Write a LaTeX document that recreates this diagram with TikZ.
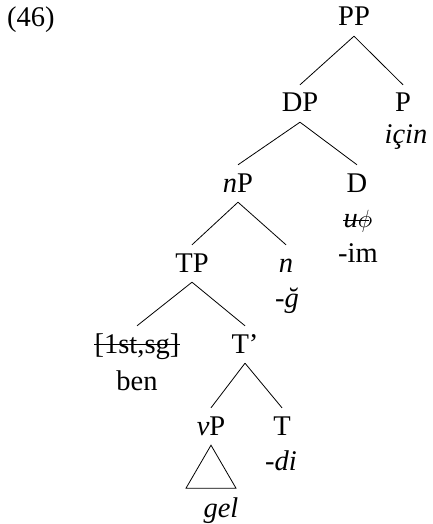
\documentclass[tikz,border=0pt]{standalone}
\usepackage{fontspec}
\setmainfont{Liberation Serif}
\usetikzlibrary{calc}
\begin{document}
\begin{tikzpicture}[x=1pt,y=1pt,
  lab/.style={font=\fontsize{28.5}{34}\selectfont, anchor=base, inner xsep=0pt, inner ysep=0pt, text height=20pt, text depth=3pt},
  cat/.style={lab, inner ysep=7pt},
  edge/.style={line width=0.8pt},
  strike/.style={line width=0.7pt},
]
\useasboundingbox (0,0) rectangle (432,-524);
\node[lab, anchor=base west] (ex) at (7,-27) {(46)};
\node[cat] (PP) at (354,-26) {PP};
\node[cat] (DP) at (300,-112) {DP};
\node[cat] (P) at (403,-112) {P};
\node[lab] (icin) at (406,-143) {\itshape için};
\node[cat] (nP) at (238,-192) {\textit{n}P};
\node[cat] (D) at (357,-192) {D};
\node[lab] (uphi) at (358,-227) {\itshape u$\phi$};
\node[lab] (im) at (358,-262) {-im};
\node[cat] (TP) at (192,-272) {TP};
\node[cat] (n) at (286,-272) {\itshape n};
\node[lab] (g) at (287,-307) {\itshape -ğ};
\node[cat] (feat) at (137,-353) {[1st,sg]};
\node[lab] (ben) at (137,-390) {ben};
\node[cat] (Tbar) at (245,-353) {T’};
\node[cat] (vP) at (211,-435) {\textit{v}P};
\node[cat] (T) at (282,-435) {T};
\node[lab] (di) at (281,-470) {\itshape -di};
\node[lab] (gel) at (221,-517) {\itshape gel};

\draw[edge] (PP.south) -- (DP.north);
\draw[edge] (PP.south) -- (P.north);
\draw[edge] (DP.south) -- (nP.north);
\draw[edge] (DP.south) -- (D.north);
\draw[edge] (nP.south) -- (TP.north);
\draw[edge] (nP.south) -- (n.north);
\draw[edge] (TP.south) -- (feat.north);
\draw[edge] (TP.south) -- (Tbar.north);
\draw[edge] (Tbar.south) -- (vP.north);
\draw[edge] (Tbar.south) -- (T.north);
\coordinate (tl) at ($(vP.south)+(-25,-43)$);
\coordinate (tr) at ($(vP.south)+(25,-43)$);
\draw[edge] (vP.south) -- (tl) -- (tr) -- cycle;

\draw[strike] (feat.west) -- (feat.east);
\draw[strike] ([yshift=-2pt]uphi.west) -- ([yshift=-2pt,xshift=-4pt]uphi.east);
\end{tikzpicture}
\end{document}
